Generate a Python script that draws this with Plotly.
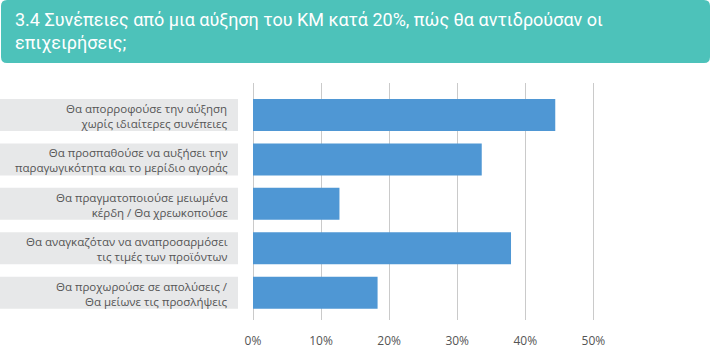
import plotly.graph_objects as go

title_lines = ["3.4 Συνέπειες από μια αύξηση του ΚΜ κατά 20%, πώς θα αντιδρούσαν οι",
               "επιχειρήσεις;"]
categories = [
    "Θα απορροφούσε την αύξηση<br>χωρίς ιδιαίτερες συνέπειες",
    "Θα προσπαθούσε να αυξήσει την<br>παραγωγικότητα και το μερίδιο αγοράς",
    "Θα πραγματοποιούσε μειωμένα<br>κέρδη / Θα χρεωκοπούσε",
    "Θα αναγκαζόταν να αναπροσαρμόσει<br>τις τιμές των προϊόντων",
    "Θα προχωρούσε σε απολύσεις /<br>Θα μείωνε τις προσλήψεις",
]
values = [0.444, 0.336, 0.127, 0.379, 0.183]
x_ticks = [0, 0.1, 0.2, 0.3, 0.4, 0.5]

W, H = 713, 364
L, R, T, B = 253, 607, 83, 320


def px2x(px):
    return (px - L) / (R - L)


def py2y(py):
    return (B - py) / (B - T)


fig = go.Figure()
fig.add_trace(go.Bar(
    y=list(range(len(categories))), x=values, orientation="h",
    marker=dict(color="#4F97D4", line=dict(width=0)),
    width=0.72, hoverinfo="skip",
))

shapes = []
annotations = []
for i, cat in enumerate(categories):
    shapes.append(dict(type="rect", xref="paper", yref="y",
                       x0=px2x(0), x1=px2x(238), y0=i - 0.36, y1=i + 0.36,
                       fillcolor="#E7E8E9", line=dict(width=0), layer="below"))
    annotations.append(dict(text=cat, xref="paper", yref="y", x=px2x(230), y=i,
                            yshift=-1, xanchor="right", yanchor="middle", align="right",
                            showarrow=False,
                            font=dict(family="Open Sans", size=11.5, color="#555555")))

# title box with rounded corners
x0, x1, y0, y1 = 1, 710, 0, 63
r = 6
path = (f"M {px2x(x0 + r)},{py2y(y0)} L {px2x(x1 - r)},{py2y(y0)} "
        f"Q {px2x(x1)},{py2y(y0)} {px2x(x1)},{py2y(y0 + r)} "
        f"L {px2x(x1)},{py2y(y1 - r)} Q {px2x(x1)},{py2y(y1)} {px2x(x1 - r)},{py2y(y1)} "
        f"L {px2x(x0 + r)},{py2y(y1)} Q {px2x(x0)},{py2y(y1)} {px2x(x0)},{py2y(y1 - r)} "
        f"L {px2x(x0)},{py2y(y0 + r)} Q {px2x(x0)},{py2y(y0)} {px2x(x0 + r)},{py2y(y0)} Z")
shapes.append(dict(type="path", xref="paper", yref="paper", path=path,
                   fillcolor="#4DC2BA", line=dict(width=0), layer="below"))

annotations.append(dict(text="<br>".join(title_lines), xref="paper", yref="paper",
                        x=px2x(13), y=py2y(31), xanchor="left", yanchor="middle",
                        align="left", showarrow=False,
                        font=dict(family="Roboto", size=18, color="white")))

fig.update_layout(
    width=W, height=H,
    margin=dict(l=L, r=W - R, t=T, b=H - B),
    paper_bgcolor="white", plot_bgcolor="white",
    showlegend=False,
    shapes=shapes, annotations=annotations,
    xaxis=dict(range=[0, 0.52], tickvals=x_ticks, tickformat=".0%",
               showgrid=True, gridcolor="#CACACA", gridwidth=1,
               zeroline=True, zerolinecolor="#CACACA", zerolinewidth=1,
               showline=False, ticks="", ticklabelstandoff=12,
               tickfont=dict(family="Open Sans", size=12, color="#555555"),
               fixedrange=True),
    yaxis=dict(range=[4.615, -0.72], showticklabels=False, showgrid=False,
               zeroline=False, showline=False, ticks="", fixedrange=True),
)

fig.write_html("out.html", config={"displayModeBar": False},
               post_script="document.body.style.margin='0';")
